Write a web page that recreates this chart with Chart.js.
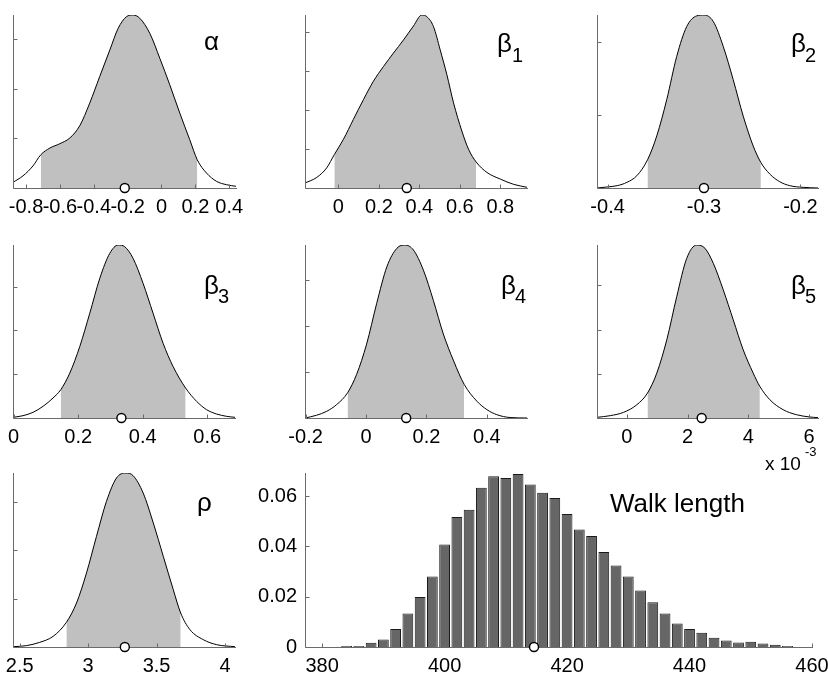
<!DOCTYPE html>
<html><head><meta charset="utf-8">
<script src="https://cdn.jsdelivr.net/npm/chart.js@4.4.1/dist/chart.umd.min.js"></script>
<style>
html,body{margin:0;padding:0;background:#fff;overflow:hidden;width:828px;height:673px;position:relative}
canvas{position:absolute}
.lbl{position:absolute;font-family:"Liberation Sans",Arial,sans-serif;color:#000;line-height:1;white-space:nowrap}
</style></head><body>
<script>
// ---------- data ----------
const alphaX = [-0.877,-0.818,-0.759,-0.713,-0.66,-0.601,-0.542,-0.483,-0.424,-0.365,-0.305,-0.256,-0.207,-0.167,-0.128,-0.069,-0.01,0.049,0.108,0.167,0.211,0.266,0.325,0.384,0.44];
const alphaY = [0.057,0.122,0.222,0.334,0.401,0.445,0.502,0.625,0.853,1.12,1.388,1.605,1.722,1.739,1.706,1.555,1.304,1.037,0.753,0.485,0.284,0.15,0.067,0.033,0.017];
const beta1X = [-0.165,-0.107,-0.058,-0.02,0.025,0.074,0.124,0.173,0.223,0.272,0.322,0.371,0.412,0.437,0.47,0.503,0.536,0.569,0.61,0.643,0.68,0.734,0.8,0.866,0.932];
const beta1Y = [0.064,0.136,0.258,0.43,0.627,0.882,1.138,1.373,1.564,1.735,1.905,2.084,2.225,2.204,2.076,1.777,1.458,1.095,0.733,0.499,0.337,0.2,0.115,0.047,0.009];
const beta2X = [-0.411,-0.4007,-0.39,-0.38,-0.3697,-0.3586,-0.349,-0.3386,-0.3283,-0.3179,-0.3076,-0.3,-0.2903,-0.28,-0.2697,-0.2593,-0.249,-0.241,-0.2317,-0.2214,-0.211,-0.1972,-0.1817];
const beta2Y = [0,0.068,0.16,0.386,0.84,1.93,3.57,6.07,9.02,11.07,11.8,11.86,11.41,9.7,7.43,4.93,2.89,1.75,0.955,0.43,0.16,0.045,0];
const beta3X = [-0.002,0.029,0.06,0.091,0.122,0.146,0.174,0.205,0.236,0.267,0.298,0.324,0.344,0.37,0.401,0.432,0.463,0.494,0.533,0.567,0.598,0.629,0.66,0.686];
const beta3Y = [0.015,0.053,0.129,0.266,0.456,0.645,1.025,1.632,2.392,3.189,3.759,3.948,3.91,3.645,3.075,2.392,1.708,1.177,0.683,0.38,0.19,0.091,0.038,0.015];
const beta4X = [-0.202,-0.164,-0.13,-0.097,-0.061,-0.031,0.002,0.035,0.069,0.102,0.129,0.157,0.19,0.223,0.256,0.29,0.325,0.367,0.4,0.433,0.477,0.533];
const beta4Y = [0,0.059,0.146,0.293,0.549,0.951,1.609,2.487,3.292,3.694,3.767,3.658,3.219,2.56,1.829,1.244,0.732,0.366,0.183,0.073,0.01,0];
const beta5X = [-0.985,-0.547,-0.109,0.328,0.679,0.985,1.314,1.642,1.971,2.3,2.573,2.847,3.175,3.504,3.832,4.161,4.38,4.708,5.146,5.584,6.022,6.296]; // x 10^-3
const beta5Y = [0.0015,0.0053,0.0128,0.03,0.0564,0.1015,0.1767,0.2744,0.3609,0.391,0.3835,0.3496,0.2895,0.2218,0.1541,0.1015,0.0714,0.0414,0.0188,0.0075,0.0023,0.0008];
const rhoX = [2.451,2.549,2.646,2.744,2.841,2.915,2.988,3.061,3.134,3.207,3.276,3.329,3.402,3.476,3.549,3.622,3.676,3.744,3.841,3.939,4.073];
const rhoY = [0.003,0.014,0.048,0.11,0.255,0.455,0.766,1.145,1.507,1.748,1.8,1.772,1.593,1.283,0.938,0.593,0.352,0.179,0.076,0.024,0.003];

const walkBins = [384,386,388,390,392,394,396,398,400,402,404,406,408,410,412,414,416,418,420,422,424,426,428,430,432,434,436,438,440,442,444,446,448,450,452,454,456];
const walkFreq = [0.0004,0.0004,0.0017,0.003,0.0072,0.0133,0.0199,0.028,0.0408,0.0517,0.0546,0.0633,0.0679,0.0672,0.0688,0.0646,0.0613,0.0593,0.0529,0.0467,0.0441,0.0378,0.0324,0.028,0.0225,0.0178,0.0133,0.0093,0.0072,0.0057,0.0037,0.0026,0.0018,0.0021,0.0014,0.0009,0.0004];

// posterior means (circles) and shaded intervals
const means = {alpha:-0.217, beta1:0.338, beta2:-0.3, beta3:0.334, beta4:0.133, beta5:2.464, rho:3.268, walk:414.6};
const intervals = {alpha:[-0.713,0.211], beta1:[-0.02,0.68], beta2:[-0.3586,-0.241], beta3:[0.146,0.533], beta4:[-0.061,0.325], beta5:[0.679,4.38], rho:[2.841,3.676]};

// tick values / labels
const alphaTicks = [-0.8,-0.6,-0.4,-0.2,0,0.2,0.4];
const alphaTickLabels = ['-0.8','-0.6','-0.4','-0.2','0','0.2','0.4'];
const beta1Ticks = [0,0.2,0.4,0.6,0.8];
const beta1TickLabels = ['0','0.2','0.4','0.6','0.8'];
const beta2Ticks = [-0.4,-0.3,-0.2];
const beta2TickLabels = ['-0.4','-0.3','-0.2'];
const beta3Ticks = [0,0.2,0.4,0.6];
const beta3TickLabels = ['0','0.2','0.4','0.6'];
const beta4Ticks = [-0.2,0,0.2,0.4];
const beta4TickLabels = ['-0.2','0','0.2','0.4'];
const beta5Ticks = [0,2,4,6];
const beta5TickLabels = ['0','2','4','6'];
const rhoTicks = [2.5,3,3.5,4];
const rhoTickLabels = ['2.5','3','3.5','4'];
const walkTicks = [380,400,420,440,460];
const walkTickLabels = ['380','400','420','440','460'];
const walkYTicks = [0,0.02,0.04,0.06];
const walkYTickLabels = ['0','0.02','0.04','0.06'];

// ---------- drawing ----------
const FONT = '"Liberation Sans", Arial, sans-serif';
const AXIS = '#6a6a6a';

const axesPlugin = {
  id: 'axesp',
  afterDatasetDraw(chart, args, opts) {
    if (args.index !== opts.after) return;
    const ctx = chart.ctx, a = chart.chartArea;
    const xs = chart.scales.x, ys = chart.scales.y;
    ctx.save();
    ctx.strokeStyle = AXIS; ctx.lineWidth = 1;
    ctx.beginPath();
    const bx = Math.round(a.left) + 0.5, by = Math.round(a.bottom) + 0.5;
    ctx.moveTo(bx, Math.round(a.top)); ctx.lineTo(bx, by);
    ctx.lineTo(Math.round(a.right) + 1, by);
    xs.ticks.forEach(t => { const p = Math.round(xs.getPixelForValue(t.value)) + 0.5; ctx.moveTo(p, by); ctx.lineTo(p, by - 4); });
    ys.ticks.forEach(t => { const p = Math.round(ys.getPixelForValue(t.value)) + 0.5; ctx.moveTo(bx, p); ctx.lineTo(bx + 4, p); });
    ctx.stroke();
    ctx.restore();
  }
};

function panel(p) {
  const yW = p.yW || 0, pl = 30, pt = 12, pb = 2, xH = 40;
  const pr = Math.max(0, Math.min(25, 828 - p.R));
  const cl = p.L - yW - pl, ct = p.T - pt;
  const cw = p.R + pr - cl, ch = p.B + xH + pb - ct;
  const cv = document.createElement('canvas');
  cv.width = cw; cv.height = ch;
  cv.style.left = cl + 'px'; cv.style.top = ct + 'px';
  cv.style.width = cw + 'px'; cv.style.height = ch + 'px';
  document.body.appendChild(cv);
  const tickFont = {family: FONT, size: 20};
  new Chart(cv, {
    type: p.type || 'line',
    data: {datasets: p.datasets},
    plugins: [axesPlugin],
    options: {
      responsive: false, animation: false, devicePixelRatio: 1,
      layout: {padding: {left: pl, top: pt, right: pr, bottom: pb}},
      plugins: {legend: {display: false}, tooltip: {enabled: false}, axesp: {after: p.after}},
      scales: {
        x: {type: 'linear', min: p.xmin, max: p.xmax, bounds: 'data', offset: false,
            grid: {display: false, drawTicks: false}, border: {display: false},
            ticks: {autoSkip: false, maxRotation: 0, minRotation: 0, padding: 7, color: '#000', font: tickFont,
                    callback: (v, i) => p.xl[i]},
            afterBuildTicks: s => { s.ticks = p.xt.map(v => ({value: v})); },
            afterFit: s => { s.height = xH; s.paddingLeft = 0; s.paddingRight = 0; }},
        y: {type: 'linear', min: 0, max: p.ymax, bounds: 'data',
            grid: {display: false, drawTicks: false}, border: {display: false},
            ticks: {display: !!p.yl, padding: 8, color: '#000', font: tickFont,
                    callback: (v, i) => p.yl ? p.yl[i] : ''},
            afterBuildTicks: s => { s.ticks = p.yt.map(v => ({value: v})); },
            afterFit: s => { s.width = yW; s.paddingTop = 0; s.paddingBottom = 0; }}
      }
    }
  });
}

function densityPanel(xs, ys, key, geo) {
  const pts = xs.map((x, i) => ({x, y: ys[i]}));
  const [lo, hi] = intervals[key];
  const shade = pts.filter(q => q.x >= lo && q.x <= hi);
  panel(Object.assign({}, geo, {
    xmin: xs[0], xmax: xs[xs.length - 1], ymax: Math.max(...ys), after: 1,
    datasets: [
      {data: [{x: means[key], y: 0}], showLine: false, pointRadius: 4.5, pointBorderWidth: 1.4,
       pointBorderColor: '#000', pointBackgroundColor: '#fff', clip: false, order: 0},
      {data: pts, borderColor: '#000', borderWidth: 1, pointRadius: 0, cubicInterpolationMode: 'monotone', fill: false, order: 1},
      {data: shade, borderColor: 'rgba(0,0,0,0)', borderWidth: 0, pointRadius: 0, cubicInterpolationMode: 'monotone',
       fill: 'origin', backgroundColor: '#c0c0c0', order: 2}
    ]
  }));
}

densityPanel(alphaX, alphaY, 'alpha', {L: 13, R: 236, T: 15, B: 188, xt: alphaTicks, xl: alphaTickLabels, yt: [0, 0.5, 1, 1.5]});
densityPanel(beta1X, beta1Y, 'beta1', {L: 305, R: 527, T: 15, B: 188, xt: beta1Ticks, xl: beta1TickLabels, yt: [0, 0.5, 1, 1.5, 2]});
densityPanel(beta2X, beta2Y, 'beta2', {L: 597, R: 818, T: 15, B: 188, xt: beta2Ticks, xl: beta2TickLabels, yt: [0, 5, 10]});
densityPanel(beta3X, beta3Y, 'beta3', {L: 13, R: 235, T: 245, B: 418, xt: beta3Ticks, xl: beta3TickLabels, yt: [0, 1, 2, 3]});
densityPanel(beta4X, beta4Y, 'beta4', {L: 305, R: 527, T: 245, B: 418, xt: beta4Ticks, xl: beta4TickLabels, yt: [0, 1, 2, 3]});
densityPanel(beta5X, beta5Y, 'beta5', {L: 597, R: 818, T: 245, B: 418, xt: beta5Ticks, xl: beta5TickLabels, yt: [0, 0.1, 0.2, 0.3]});
densityPanel(rhoX, rhoY, 'rho', {L: 13, R: 235, T: 473, B: 647, xt: rhoTicks, xl: rhoTickLabels, yt: [0, 0.5, 1, 1.5]});

panel({L: 305, R: 812, T: 473, B: 647, yW: 55, type: 'bar', after: 1,
  xmin: 377.2, xmax: 460, ymax: 0.0692, xt: walkTicks, xl: walkTickLabels, yt: walkYTicks, yl: walkYTickLabels,
  datasets: [
    {type: 'line', data: [{x: means.walk, y: 0}], showLine: false, pointRadius: 4.5, pointBorderWidth: 1.4,
     pointBorderColor: '#000', pointBackgroundColor: '#fff', clip: false, order: 0},
    {type: 'bar', data: walkBins.map((b, i) => ({x: b, y: walkFreq[i]})), backgroundColor: '#666666',
     borderColor: '#1a1a1a', borderWidth: 1, categoryPercentage: 1, barPercentage: 0.88, order: 1}
  ]});

// ---------- panel labels ----------
function txt(t, x, base, size) {
  const d = document.createElement('div');
  d.className = 'lbl';
  d.textContent = t;
  d.style.fontSize = size + 'px';
  d.style.left = x + 'px';
  d.style.top = (base - 0.8465 * size) + 'px';
  document.body.appendChild(d);
}
txt('α', 204, 50, 26);
txt('β', 497, 52, 26); txt('1', 512, 62, 20);
txt('β', 791, 52, 26); txt('2', 805, 62, 20);
txt('β', 204, 294, 26); txt('3', 218, 303, 20);
txt('β', 501, 294, 26); txt('4', 515, 303, 20);
txt('β', 791, 294, 26); txt('5', 805, 303, 20);
txt('ρ', 197, 511, 26);
txt('Walk length', 610, 512, 26);
txt('x 10', 765, 470, 19); txt('-3', 805, 456, 13);
</script>
</body></html>
